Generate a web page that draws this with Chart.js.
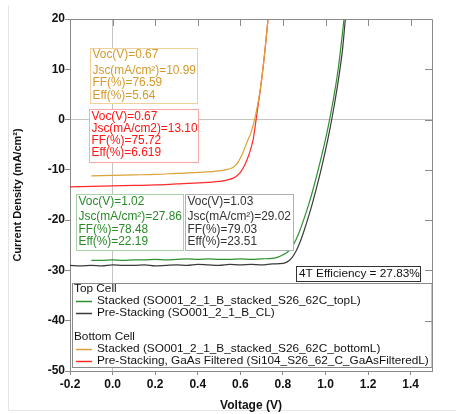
<!DOCTYPE html>
<html>
<head>
<meta charset="utf-8">
<script src="https://cdn.jsdelivr.net/npm/chart.js@4/dist/chart.umd.min.js"></script>
<style>
  body { margin: 0; background: #fff; }
  canvas { display: block; }
</style>
</head>
<body>
<canvas id="iv-chart" width="456" height="414"></canvas>
<script>
// Top cell, stacked (green)
const stackedTopV = [-0.1, -0.05, 0.0, 0.05, 0.1, 0.15, 0.2, 0.25, 0.3, 0.35, 0.4, 0.45, 0.5, 0.55, 0.6, 0.65, 0.7, 0.75, 0.78, 0.8, 0.82, 0.84, 0.86, 0.88, 0.9, 0.92, 0.94, 0.96, 0.98, 1.0, 1.02, 1.04, 1.06, 1.087];
const stackedTopJ = [-28.0, -28.0, -27.9, -28.0, -27.9, -27.9, -27.8, -27.9, -27.8, -27.7, -27.8, -27.7, -27.8, -27.8, -27.7, -27.8, -27.7, -27.6, -27.3, -26.9, -26.4, -25.5, -24.0, -22.0, -19.6, -17.0, -14.1, -10.9, -7.5, -3.9, 0.2, 4.8, 10.2, 20];

// Top cell, pre-stacking (dark grey)
const preTopV = [-0.2, -0.15, -0.1, -0.05, 0.0, 0.05, 0.1, 0.15, 0.2, 0.25, 0.3, 0.35, 0.4, 0.45, 0.5, 0.55, 0.6, 0.65, 0.7, 0.75, 0.8, 0.82, 0.84, 0.86, 0.88, 0.9, 0.92, 0.94, 0.96, 0.98, 1.0, 1.02, 1.04, 1.06, 1.08, 1.093];
const preTopJ = [-29.0, -29.1, -29.0, -29.1, -28.9, -29.0, -29.0, -28.9, -29.1, -29.0, -28.9, -29.0, -28.8, -28.9, -29.0, -28.8, -28.9, -28.8, -28.9, -28.7, -28.6, -28.3, -27.6, -26.3, -24.4, -22.0, -19.3, -16.4, -13.2, -9.8, -6.1, -2.0, 2.6, 7.8, 14.0, 20];

// Bottom cell, stacked (orange)
const stackedBotV = [-0.1, 0.0, 0.1, 0.2, 0.3, 0.4, 0.5, 0.54, 0.57, 0.59, 0.61, 0.63, 0.65, 0.67, 0.69, 0.7, 0.715, 0.73];
const stackedBotJ = [-11.2, -11.1, -11.0, -10.9, -10.7, -10.5, -10.2, -9.9, -9.4, -8.4, -6.8, -4.6, -2.6, 0.6, 5.0, 8.0, 13.5, 20];

// Bottom cell, pre-stacking GaAs filtered (red)
const preBotV = [-0.2, -0.1, 0.0, 0.1, 0.2, 0.3, 0.4, 0.5, 0.55, 0.58, 0.6, 0.62, 0.64, 0.66, 0.675, 0.69, 0.7, 0.715, 0.73];
const preBotJ = [-13.4, -13.3, -13.2, -13.1, -13.0, -12.8, -12.6, -12.3, -11.9, -11.3, -10.5, -9.1, -7.0, -4.0, 0.3, 4.8, 8.0, 13.5, 20];

const seriesLabels = [
  'Stacked (SO001_2_1_B_stacked_S26_62C_topL)',
  'Pre-Stacking (SO001_2_1_B_CL)',
  'Stacked (SO001_2_1_B_stacked_S26_62C_bottomL)',
  'Pre-Stacking, GaAs Filtered (Si104_S26_62_C_GaAsFilteredL)',
];
const legendGroups = ['Top Cell', 'Bottom Cell'];

const stackedBotStats = ['Voc(V)=0.67', 'Jsc(mA/cm\u00b2)=10.99', 'FF(%)=76.59', 'Eff(%)=5.64'];
const preBotStats     = ['Voc(V)=0.67', 'Jsc(mA/cm2)=13.10', 'FF(%)=75.72', 'Eff(%)=6.619'];
const stackedTopStats = ['Voc(V)=1.02', 'Jsc(mA/cm\u00b2)=27.86', 'FF(%)=78.48', 'Eff(%)=22.19'];
const preTopStats     = ['Voc(V)=1.03', 'Jsc(mA/cm\u00b2)=29.02', 'FF(%)=79.03', 'Eff(%)=23.51'];
const tandemText = '4T Efficiency = 27.83%';

const xTitle = 'Voltage (V)';
const yTitle = 'Current Density (mA/cm\u00b2)';

const FONT = '"Liberation Sans", Arial, Helvetica, sans-serif';
const zip = (xs, ys) => xs.map((v, i) => ({ x: v, y: ys[i] }));

const GREEN = '#2f8f2f', GREY = '#3a3a3a', ORANGE = '#dca236', RED = '#ff2a2a';

// stat boxes, in pixels
const statBoxes = [
  { lines: stackedBotStats, x: 90, y: 48, w: 107, h: 55, color: '#d39a2c', border: '#f0cf98', offs: [7, 23, 35, 48] },
  { lines: preBotStats,     x: 89, y: 109, w: 109, h: 53, color: '#ff1414', border: '#ffa8a8', offs: [8, 19.5, 31.5, 44] },
  { lines: stackedTopStats, x: 76, y: 194, w: 107, h: 56, color: '#2a8a2a', border: '#a6d2a6', offs: [8, 23, 36, 48] },
  { lines: preTopStats,     x: 185, y: 194, w: 108, h: 56, color: '#333333', border: '#b0b0b0', offs: [8, 23, 36, 48] },
];

const overlay = {
  id: 'overlay',
  beforeDraw(chart) {
    const { ctx } = chart;
    ctx.save();
    ctx.strokeStyle = '#e6e6e6';
    ctx.beginPath();
    ctx.moveTo(8.5, 5); ctx.lineTo(8.5, 410.5); ctx.lineTo(456, 410.5);
    ctx.stroke();
    ctx.restore();
  },
  afterDatasetsDraw(chart) {
    const { ctx } = chart;
    ctx.save();
    ctx.font = '11.9px ' + FONT;
    ctx.textBaseline = 'middle';
    statBoxes.forEach(b => {
      ctx.fillStyle = '#fff';
      ctx.fillRect(b.x, b.y, b.w, b.h);
      ctx.strokeStyle = b.border;
      ctx.lineWidth = 1;
      ctx.strokeRect(b.x + 0.5, b.y + 0.5, b.w, b.h);
      ctx.fillStyle = b.color;
      b.lines.forEach((t, i) => ctx.fillText(t, b.x + 2.5, b.y + b.offs[i]));
    });

    // 4T box
    ctx.font = '11.8px ' + FONT;
    ctx.fillStyle = '#fff';
    ctx.fillRect(296, 266, 124, 15);
    ctx.strokeStyle = '#333';
    ctx.strokeRect(296.5, 266.5, 124, 15);
    ctx.fillStyle = '#111';
    ctx.fillText(tandemText, 299, 274);

    // legend
    const a = chart.chartArea;
    ctx.font = '11.8px ' + FONT;
    ctx.fillStyle = '#fff';
    ctx.fillRect(72, 283, a.right - 72, 84);
    ctx.strokeStyle = '#8a8a8a';
    ctx.strokeRect(72.5, 283.5, a.right - 72.5, 84);
    const ds = chart.data.datasets;
    let row = 0;
    legendGroups.forEach((g, gi) => {
      const yy = 289 + row * 12;
      ctx.fillStyle = '#111';
      ctx.fillText(g, 74, yy);
      row++;
      [gi * 2, gi * 2 + 1].forEach(k => {
        const ly = 289 + row * 12;
        ctx.strokeStyle = ds[k].borderColor;
        ctx.lineWidth = 1.5;
        ctx.beginPath();
        ctx.moveTo(76, ly + 0.5); ctx.lineTo(92, ly + 0.5);
        ctx.stroke();
        ctx.fillStyle = '#111';
        ctx.fillText(ds[k].label, 97, ly);
        row++;
      });
      row++;
    });
    ctx.restore();
  },
  afterDraw(chart) {
    const { ctx, chartArea: a, scales: { x, y } } = chart;
    ctx.save();
    ctx.strokeStyle = '#8a8a8a';
    ctx.lineWidth = 1;
    ctx.beginPath();
    ctx.moveTo(a.left, a.top + 0.5); ctx.lineTo(a.right + 0.5, a.top + 0.5); ctx.lineTo(a.right + 0.5, a.bottom);
    x.ticks.forEach(t => {
      const px = Math.round(x.getPixelForValue(t.value)) + 0.5;
      ctx.moveTo(px, a.top); ctx.lineTo(px, a.top + 7);
    });
    y.ticks.forEach(t => {
      const py = Math.round(y.getPixelForValue(t.value)) + 0.5;
      ctx.moveTo(a.right, py); ctx.lineTo(a.right - 7, py);
    });
    ctx.stroke();

    ctx.fillStyle = '#111';
    ctx.font = 'bold 12px ' + FONT;
    ctx.textAlign = 'center';
    ctx.textBaseline = 'middle';
    ctx.fillText(xTitle, (a.left + a.right) / 2, 406);
    ctx.translate(18, (a.top + a.bottom) / 2);
    ctx.rotate(-Math.PI / 2);
    ctx.font = 'bold 11px ' + FONT;
    ctx.fillText(yTitle, 0, 0);
    ctx.restore();
  },
};

const line = (label, xs, ys, color) => ({
  label,
  data: zip(xs, ys),
  borderColor: color,
  backgroundColor: color,
  borderWidth: 1.2,
  pointRadius: 0,
  showLine: true,
  cubicInterpolationMode: 'monotone',
});

const zeroGrid = c => (c.tick && Math.abs(c.tick.value) < 1e-9) ? '#c4c4c4' : 'rgba(0,0,0,0)';

new Chart(document.getElementById('iv-chart'), {
  type: 'scatter',
  data: {
    datasets: [
      line(seriesLabels[0], stackedTopV, stackedTopJ, GREEN),
      line(seriesLabels[1], preTopV, preTopJ, GREY),
      line(seriesLabels[2], stackedBotV, stackedBotJ, ORANGE),
      line(seriesLabels[3], preBotV, preBotJ, RED),
    ],
  },
  options: {
    responsive: false,
    animation: false,
    devicePixelRatio: 1,
    layout: { padding: { top: 19, right: 24, left: 0, bottom: 0 } },
    plugins: { legend: { display: false }, tooltip: { enabled: false } },
    scales: {
      x: {
        type: 'linear',
        min: -0.2,
        max: 1.5,
        ticks: {
          stepSize: 0.2,
          includeBounds: false,
          maxRotation: 0,
          padding: 2,
          color: '#111',
          font: { family: FONT, size: 12, weight: 'bold' },
          callback: v => (Math.abs(v) < 1e-9 ? 0 : v).toFixed(1),
        },
        grid: { color: zeroGrid, tickColor: '#8a8a8a', tickLength: 4 },
        border: { color: '#8a8a8a' },
        afterFit: s => { s.height = 43; s.paddingLeft = 0; s.paddingRight = 0; },
      },
      y: {
        type: 'linear',
        min: -50,
        max: 20,
        ticks: {
          stepSize: 10,
          padding: 0,
          color: '#111',
          font: { family: FONT, size: 12, weight: 'bold' },
        },
        grid: { color: zeroGrid, tickColor: '#8a8a8a', tickLength: 5 },
        border: { color: '#8a8a8a' },
        afterFit: s => { s.width = 70; s.paddingTop = 0; s.paddingBottom = 0; },
      },
    },
  },
  plugins: [overlay],
});
</script>
</body>
</html>
